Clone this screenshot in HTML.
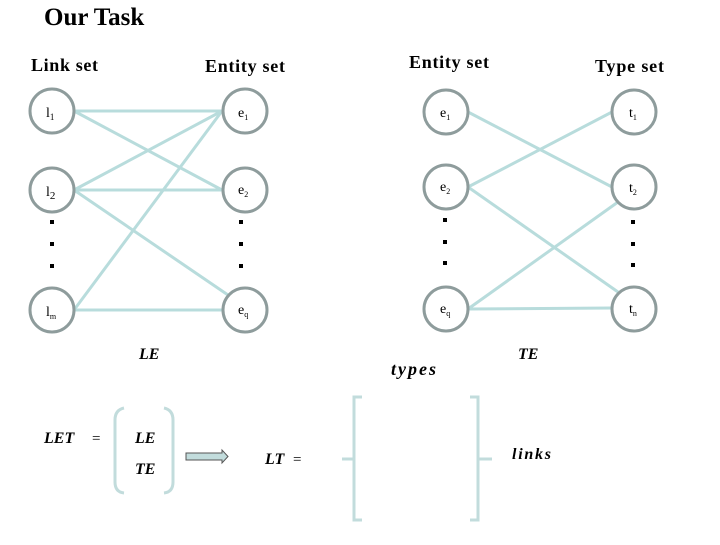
<!DOCTYPE html><html><head><style>
body{margin:0;width:720px;height:540px;background:#fff;overflow:hidden}
svg text{font-family:"Liberation Serif",serif}
</style></head><body>
<svg width="720" height="540" xmlns="http://www.w3.org/2000/svg">
<text x="44" y="25" font-size="25" font-weight="bold">Our Task</text>
<g font-size="18" font-weight="bold">
<text x="31" y="71" textLength="67">Link set</text>
<text x="205" y="72" textLength="80">Entity set</text>
<text x="409" y="68" textLength="80">Entity set</text>
<text x="595" y="72" textLength="69">Type set</text>
</g>
<g stroke="#b8dcdc" stroke-width="3" fill="none">
<line x1="74" y1="111" x2="222" y2="111"/>
<line x1="74" y1="111" x2="222" y2="190"/>
<line x1="74" y1="190" x2="222" y2="111"/>
<line x1="74" y1="190" x2="222" y2="190"/>
<line x1="74" y1="190" x2="228" y2="295"/>
<line x1="74" y1="310" x2="222" y2="111"/>
<line x1="74" y1="310" x2="222" y2="310"/>
<line x1="468" y1="112" x2="612" y2="187"/>
<line x1="468" y1="187" x2="612" y2="112"/>
<line x1="468" y1="187" x2="618" y2="292"/>
<line x1="468" y1="309" x2="618" y2="202"/>
<line x1="468" y1="309" x2="612" y2="308"/>
</g>
<g stroke="#8e9c9c" stroke-width="3" fill="none">
<circle cx="52" cy="111" r="22"/><circle cx="52" cy="190" r="22"/><circle cx="52" cy="310" r="22"/>
<circle cx="245" cy="111" r="22"/><circle cx="245" cy="190" r="22"/><circle cx="245" cy="310" r="22"/>
<circle cx="446" cy="112" r="22"/><circle cx="446" cy="187" r="22"/><circle cx="446" cy="309" r="22"/>
<circle cx="634" cy="112" r="22"/><circle cx="634" cy="187" r="22"/><circle cx="634" cy="309" r="22"/>
</g>
<g fill="#000">
<rect x="50" y="220" width="4" height="4"/><rect x="50" y="242" width="4" height="4"/><rect x="50" y="264" width="4" height="4"/>
<rect x="239" y="220" width="4" height="4"/><rect x="239" y="242" width="4" height="4"/><rect x="239" y="264" width="4" height="4"/>
<rect x="443" y="218" width="4" height="4"/><rect x="443" y="240" width="4" height="4"/><rect x="443" y="261" width="4" height="4"/>
<rect x="631" y="220" width="4" height="4"/><rect x="631" y="242" width="4" height="4"/><rect x="631" y="263" width="4" height="4"/>
</g>
<g font-size="14">
<text x="46" y="117">l<tspan font-size="9" dy="3">1</tspan></text>
<text x="46" y="196">l<tspan font-size="11" dy="3">2</tspan></text>
<text x="46" y="316">l<tspan font-size="8" dy="3">m</tspan></text>
<text x="238" y="117">e<tspan font-size="8" dy="3">1</tspan></text>
<text x="238" y="194">e<tspan font-size="8" dy="3">2</tspan></text>
<text x="238" y="314">e<tspan font-size="8" dy="3">q</tspan></text>
<text x="440" y="117">e<tspan font-size="8" dy="3">1</tspan></text>
<text x="440" y="191">e<tspan font-size="8" dy="3">2</tspan></text>
<text x="440" y="313">e<tspan font-size="8" dy="3">q</tspan></text>
<text x="629" y="117">t<tspan font-size="8" dy="3">1</tspan></text>
<text x="629" y="192">t<tspan font-size="8" dy="3">2</tspan></text>
<text x="629" y="313">t<tspan font-size="8" dy="3">n</tspan></text>
</g>
<g font-size="16" font-style="italic" font-weight="bold">
<text x="139" y="359">LE</text>
<text x="518" y="359">TE</text>
<text x="391" y="375" font-size="18" textLength="45">types</text>
<text x="44" y="443">LET</text>
<text x="135" y="443">LE</text>
<text x="135" y="474">TE</text>
<text x="265" y="464">LT</text>
<text x="512" y="459" textLength="39">links</text>
</g>
<text x="92" y="443" font-size="15">=</text>
<text x="293" y="464" font-size="15">=</text>
<g stroke="#c2dcdc" stroke-width="3" fill="none">
<path d="M124 408 Q115 410 115 420 L115 482 Q115 492 124 493"/>
<path d="M164 408 Q173 410 173 420 L173 482 Q173 492 164 493"/>
<path d="M362 397 L354 397 L354 520 L362 520 M342 459 L354 459"/>
<path d="M470 397 L478 397 L478 520 L470 520 M478 459 L492 459"/>
</g>
<path d="M186 453 L222 453 L222 450 L228 456.5 L222 463 L222 460 L186 460 Z" fill="#c2dcdc" stroke="#555" stroke-width="1"/>
</svg>
</body></html>
